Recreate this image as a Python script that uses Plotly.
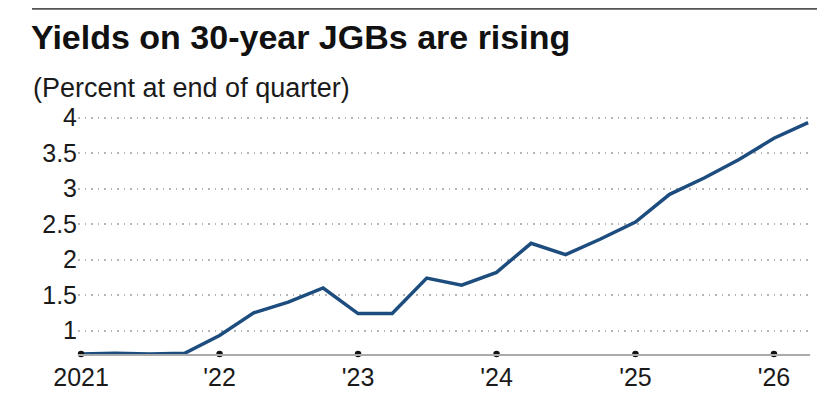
import plotly.graph_objects as go

dates = ["2021-01-01", "2021-04-01", "2021-07-01", "2021-10-01",
         "2022-01-01", "2022-04-01", "2022-07-01", "2022-10-01",
         "2023-01-01", "2023-04-01", "2023-07-01", "2023-10-01",
         "2024-01-01", "2024-04-01", "2024-07-01", "2024-10-01",
         "2025-01-01", "2025-04-01", "2025-07-01", "2025-10-01",
         "2026-01-01", "2026-04-01"]
yields = [0.67, 0.68, 0.67, 0.68,
          0.93, 1.25, 1.40, 1.60,
          1.24, 1.24, 1.74, 1.64,
          1.82, 2.23, 2.07, 2.29,
          2.53, 2.92, 3.15, 3.41,
          3.71, 3.93]
x_tick_vals = ["2021-01-01", "2022-01-01", "2023-01-01", "2024-01-01", "2025-01-01", "2026-01-01"]
x_tick_text = ["2021", "'22", "'23", "'24", "'25", "'26"]
y_tick_vals = [1, 1.5, 2, 2.5, 3, 3.5, 4]
y_tick_text = ["1", "1.5", "2", "2.5", "3", "3.5", "4"]

Y_MIN, Y_MAX = 0.67, 4.08
FONT = "Liberation Sans, Arial, sans-serif"
OFF = 8  # page body margin
W, H = 825 - OFF, 409 - 2 * OFF - 1
L, R, T, B = 78 - OFF, W - (810 - OFF), 112 - OFF, H - (354 - OFF)
PW, PH = W - L - R, H - T - B


def px_x(v):
    return (v - OFF - L) / PW


def px_y(v):
    return (H - B - (v - OFF)) / PH


fig = go.Figure()
fig.add_trace(go.Scatter(
    x=dates, y=yields, mode="lines",
    line=dict(color="#1d4d7e", width=3.5),
    hoverinfo="skip", showlegend=False,
))
fig.add_trace(go.Scatter(
    x=x_tick_vals, y=[Y_MIN] * len(x_tick_vals), mode="markers",
    marker=dict(color="#111111", size=6.5),
    cliponaxis=False, hoverinfo="skip", showlegend=False,
))

fig.update_layout(
    width=W, height=H,
    margin=dict(l=L, r=R, t=T, b=B, autoexpand=False),
    paper_bgcolor="white", plot_bgcolor="white",
    font=dict(family=FONT, color="#1a1a1a", size=25),
    title=dict(
        text="<b>Yields on 30-year JGBs are rising</b>",
        xref="container", x=(31 - OFF) / W, xanchor="left",
        yref="container", y=1 - (25 - OFF) / H, yanchor="top",
        font=dict(family=FONT, size=34, color="#111111"),
        pad=dict(l=0, t=0, b=0, r=0),
    ),
    xaxis=dict(
        range=["2020-12-24", "2026-04-06"],
        tickmode="array", tickvals=x_tick_vals, ticktext=x_tick_text,
        showgrid=False, zeroline=False, automargin=False,
        showline=True, linecolor="#aaaaaa", linewidth=1.5,
        ticks="", tickfont=dict(size=25, color="#1a1a1a"),
    ),
    yaxis=dict(
        range=[Y_MIN, Y_MAX], automargin=False,
        tickmode="array", tickvals=y_tick_vals, ticktext=y_tick_text,
        showgrid=True, gridcolor="#b5b5b5", griddash="1.5px,5px", gridwidth=1.5,
        zeroline=False, showline=False, ticks="",
        tickfont=dict(size=25, color="#1a1a1a"),
    ),
    shapes=[dict(
        type="line", xref="paper", yref="paper",
        x0=px_x(32), x1=px_x(826),
        y0=px_y(8.9), y1=px_y(8.9),
        line=dict(color="#555555", width=1.6),
    )],
    annotations=[dict(
        text="(Percent at end of quarter)",
        xref="paper", yref="paper",
        x=px_x(31), xanchor="left",
        y=px_y(88), yanchor="middle",
        showarrow=False, font=dict(family=FONT, size=27, color="#1a1a1a"),
    )],
)

fig.write_html("out.html")
